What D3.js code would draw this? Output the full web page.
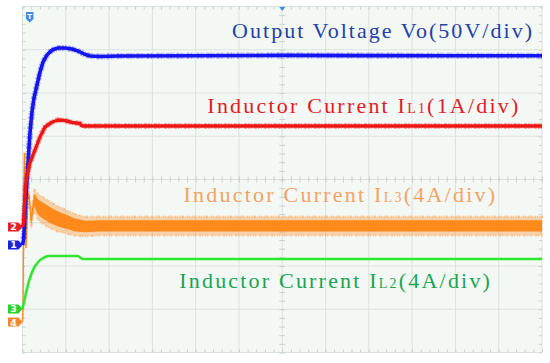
<!DOCTYPE html>
<html>
<head>
<meta charset="utf-8">
<script src="https://cdn.jsdelivr.net/npm/d3@7"></script>
<style>
body { margin: 0; background: #fff; }
svg { display: block; }
</style>
</head>
<body>
<svg width="550" height="363"></svg>
<script>
// scope screen: 12 div across, 8 div tall, values in divisions (0 = centre line)
var voT = [0, 0.023, 0.046, 0.069, 0.104, 0.139, 0.173, 0.219, 0.266, 0.335, 0.404, 0.474, 0.566, 0.681, 0.820, 0.982, 1.143, 1.282, 1.421, 1.559, 1.790, 2.252, 4, 6, 8, 10, 12];
var voV = [-1.514, -1.399, -1.052, -0.590, -0.012, 0.566, 1.075, 1.561, 1.884, 2.185, 2.486, 2.717, 2.879, 2.994, 3.040, 3.040, 3.017, 2.971, 2.902, 2.855, 2.844, 2.855, 2.860, 2.870, 2.865, 2.860, 2.860];

var il1T = [0, 0.023, 0.046, 0.069, 0.104, 0.173, 0.289, 0.404, 0.520, 0.681, 0.820, 0.982, 1.143, 1.328, 1.374, 12];
var il1V = [-1.098, -0.983, -0.590, -0.127, 0.081, 0.382, 0.682, 0.983, 1.214, 1.329, 1.376, 1.364, 1.318, 1.295, 1.237, 1.237];

var il2T = [0, 0.035, 0.097, 0.150, 0.213, 0.289, 0.404, 0.497, 0.589, 1.282, 1.386, 12];
var il2V = [-2.994, -2.832, -2.555, -2.347, -2.162, -2.000, -1.861, -1.803, -1.769, -1.769, -1.838, -1.838];

var il3T = [0, 0.012, 0.023, 0.035, 0.046, 0.065, 0.081, 0.099, 0.116, 0.139, 0.162, 0.196, 0.231, 0.266, 0.300, 0.358, 0.450, 0.635, 0.820, 1.028, 1.213, 1.444, 1.790, 12];
var il3V = [-3.295, -3.017, -1.630, -0.012, 0.613, -0.474, -1.584, -1.168, -0.590, -0.358, -0.474, -0.936, -0.751, -0.474, -0.520, -0.636, -0.705, -0.821, -0.913, -0.983, -1.052, -1.087, -1.075, -1.075];
var il3Ripple = [0.007, 0.007, 0.007, 0.007, 0.007, 0.007, 0.007, 0.007, 0.02, 0.069, 0.092, 0.116, 0.139, 0.139, 0.162, 0.173, 0.185, 0.185, 0.175, 0.16, 0.15, 0.135, 0.13, 0.13];

var labelHead = ["Output Voltage Vo(50V/div)", "Inductor Current I", "Inductor Current I", "Inductor Current I"];
var labelSub = ["", "L1", "L3", "L2"];
var labelTail = ["", "(1A/div)", "(4A/div)", "(4A/div)"];
var channelNames = ["1", "2", "4", "3"];

var svg = d3.select("svg"),
    x = d3.scaleLinear().domain([0, 12]).range([22.5, 542]),
    y = d3.scaleLinear().domain([-4, 4]).range([352.5, 6.5]);

var traceColor = ["#1414f0", "#ee1515", "#ff8a1c", "#2ee82e"],
    textColor = ["#2440a6", "#e21c24", "#f4a264", "#18a452"],
    flagColor = ["#1a22e0", "#e8202a", "#f08a2c", "#2ad42a"];

// screen background + grid
svg.append("rect")
    .attr("x", x(0)).attr("y", y(4))
    .attr("width", x(12) - x(0)).attr("height", y(-4) - y(4))
    .attr("fill", "#f3f8f5");

var grid = svg.append("g").attr("stroke", "#dbe2de").attr("stroke-width", 1);
grid.selectAll(".vl").data(d3.range(0, 13)).enter().append("line")
    .attr("x1", function(d) { return x(d); }).attr("x2", function(d) { return x(d); })
    .attr("y1", y(4)).attr("y2", y(-4));
grid.selectAll(".hl").data(d3.range(-4, 5)).enter().append("line")
    .attr("x1", x(0)).attr("x2", x(12))
    .attr("y1", function(d) { return y(d); }).attr("y2", function(d) { return y(d); });

// minor ticks on frame and centre axes
var minorX = d3.range(0, 12.001, 0.2),
    minorY = d3.range(-4, 4.001, 0.2);

function tickAxis(axis, tx, ty) {
  var a = svg.append("g")
      .attr("transform", "translate(" + tx + "," + ty + ")")
      .call(axis.tickFormat(""));
  a.select(".domain").remove();
  a.selectAll(".tick line").attr("stroke", "#c9d1cd");
}
tickAxis(d3.axisBottom(x).tickValues(minorX).tickSize(3), 0, y(4));
tickAxis(d3.axisTop(x).tickValues(minorX).tickSize(3), 0, y(-4));
tickAxis(d3.axisBottom(x).tickValues(minorX).tickSize(6), 0, y(0) - 3);
tickAxis(d3.axisRight(y).tickValues(minorY).tickSize(3), x(0), 0);
tickAxis(d3.axisLeft(y).tickValues(minorY).tickSize(3), x(12), 0);
tickAxis(d3.axisRight(y).tickValues(minorY).tickSize(6), x(6) - 3, 0);

var line = d3.line()
    .x(function(d) { return x(d[0]); })
    .y(function(d) { return y(d[1]); });

// IL3 noisy band
var il3 = d3.zip(il3T, il3V, il3Ripple);
var band = d3.area()
    .x(function(d) { return x(d[0]); })
    .y0(function(d) { return y(d[1] - d[2] * 1.7); })
    .y1(function(d) { return y(d[1] + d[2] * 1.7); });
var core = d3.area()
    .x(function(d) { return x(d[0]); })
    .y0(function(d) { return y(d[1] - d[2]); })
    .y1(function(d) { return y(d[1] + d[2]); });

svg.append("path").datum(il3).attr("d", band)
    .attr("fill", traceColor[2]).attr("opacity", 0.35);
svg.append("path").datum(il3).attr("d", band)
    .attr("fill", "none").attr("stroke", traceColor[2]).attr("stroke-width", 2)
    .attr("stroke-dasharray", "1 2 1 1 2 3 1 1").attr("opacity", 0.4);
svg.append("path").datum(il3).attr("d", core)
    .attr("fill", traceColor[2]);
svg.append("path").datum(d3.zip(il3T, il3V)).attr("d", line)
    .attr("fill", "none").attr("stroke", traceColor[2]).attr("stroke-width", 1.2);

// Vo, IL1, IL2
function trace(T, V, color, w, halo) {
  var data = d3.zip(T, V);
  if (halo) {
    svg.append("path").datum(data).attr("d", line)
        .attr("fill", "none").attr("stroke", color).attr("stroke-width", w + 2.5)
        .attr("stroke-dasharray", "2 1 1 2 3 1").attr("opacity", 0.35);
  }
  svg.append("path").datum(data).attr("d", line)
      .attr("fill", "none").attr("stroke", color)
      .attr("stroke-width", w).attr("stroke-linejoin", "round");
}
trace(voT, voV, traceColor[0], 3.6, true);
trace(il1T, il1V, traceColor[1], 3.4, true);
trace(il2T, il2V, traceColor[3], 2.6, false);

// labels
var labelT = [4.84, 4.27, 3.72, 3.62],
    labelV = [3.265, 1.531, -0.513, -2.516],
    labelW = [300, 311, 311.5, 310.7];

d3.range(4).forEach(function(i) {
  var t = svg.append("text")
      .attr("x", x(labelT[i]))
      .attr("y", y(labelV[i]))
      .attr("fill", textColor[i])
      .attr("font-family", "'Liberation Serif', serif")
      .attr("font-size", 22)
      .attr("textLength", labelW[i])
      .attr("lengthAdjust", "spacing");
  t.append("tspan").text(labelHead[i]);
  if (labelSub[i]) {
    t.append("tspan").attr("font-size", 14).text(labelSub[i]);
    t.append("tspan").text(labelTail[i]);
  }
});

// channel offset flags
var flagV = [voV[0], il1V[0], il3V[0], il2V[0]],
    flagC = [flagColor[0], flagColor[1], flagColor[2], flagColor[3]];

var flags = svg.append("g").selectAll("g")
    .data(d3.range(4))
  .enter().append("g")
    .attr("transform", function(i) { return "translate(8,0) translate(0," + y(flagV[i]) + ")"; });
flags.append("path")
    .attr("d", "M0,-4.5 H10.5 L14.5,0 L10.5,4.5 H0 Z")
    .attr("fill", function(i) { return flagC[i]; });
flags.append("text")
    .attr("x", 5.5).attr("y", 3.5)
    .attr("text-anchor", "middle")
    .attr("fill", "#fff")
    .attr("font-family", "'DejaVu Sans', sans-serif")
    .attr("font-size", 9.5)
    .attr("font-weight", "bold")
    .text(function(i) { return channelNames[i]; });

// trigger markers
var trig = svg.append("g").attr("transform", "translate(26,12)");
trig.append("path").attr("d", "M0,0 H7.5 V7 L3.75,10.5 L0,7 Z").attr("fill", "#3d8de0");
trig.append("text").attr("x", 3.75).attr("y", 7)
    .attr("text-anchor", "middle").attr("fill", "#fff")
    .attr("font-family", "'DejaVu Sans', sans-serif")
    .attr("font-size", 7).attr("font-weight", "bold").text("T");

svg.append("path")
    .attr("transform", "translate(" + x(6) + "," + 7 + ")")
    .attr("d", "M-3,0 H3 L0,4 Z")
    .attr("fill", "#3d8de0");
</script>
</body>
</html>
